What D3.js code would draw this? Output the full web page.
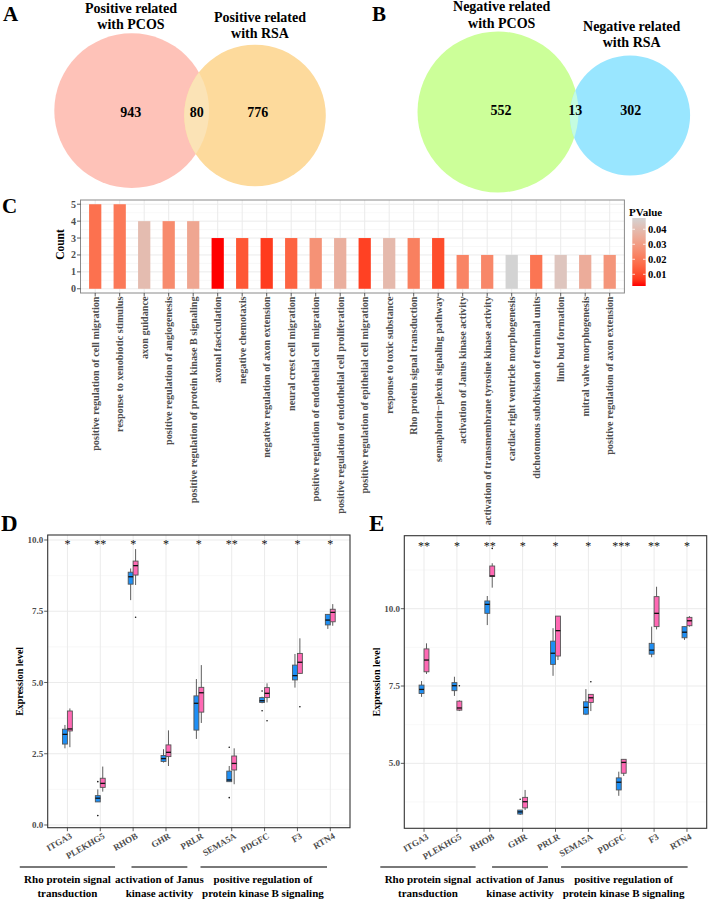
<!DOCTYPE html>
<html><head><meta charset="utf-8">
<script src="https://cdn.jsdelivr.net/npm/d3@7"></script>
<style>
body{margin:0;background:#fff;}
svg{display:block;}
text{font-family:"Liberation Serif","Times New Roman",serif;}
</style>
</head><body>
<svg id="c" width="709" height="899"></svg>
<script>
// ================= DATA =================
// Venn A
const vennATitles = [["Positive related","with PCOS"],["Positive related","with RSA"]];
const vennACounts = [943, 80, 776]; // only PCOS, both, only RSA
// Venn B
const vennBTitles = [["Negative related","with PCOS"],["Negative related","with RSA"]];
const vennBCounts = [552, 13, 302];

// Panel C: GO terms
const goTerms = [
  "positive regulation of cell migration",
  "response to xenobiotic stimulus",
  "axon guidance",
  "positive regulation of angiogenesis",
  "positive regulation of protein kinase B signaling",
  "axonal fasciculation",
  "negative chemotaxis",
  "negative regulation of axon extension",
  "neural crest cell migration",
  "positive regulation of endothelial cell migration",
  "positive regulation of endothelial cell proliferation",
  "positive regulation of epithelial cell migration",
  "response to toxic substance",
  "Rho protein signal transduction",
  "semaphorin\u2212plexin signaling pathway",
  "activation of Janus kinase activity",
  "activation of transmembrane tyrosine kinase activity",
  "cardiac right ventricle morphogenesis",
  "dichotomous subdivision of terminal units",
  "limb bud formation",
  "mitral valve morphogenesis",
  "positive regulation of axon extension"
];
const goCounts = [5,5,4,4,4,3,3,3,3,3,3,3,3,3,3,2,2,2,2,2,2,2];
const goPValues = [0.018,0.020,0.040,0.025,0.033,0.0022,0.012,0.007,0.015,0.027,0.036,0.008,0.039,0.022,0.010,0.023,0.024,0.0475,0.019,0.043,0.035,0.028];
const countTicks = [0,1,2,3,4,5];
const pvalTicks = [0.01,0.02,0.03,0.04];

// Panels D / E: boxplots  [lower whisker, Q1, median, Q3, upper whisker]
const genes = ["ITGA3","PLEKHG5","RHOB","GHR","PRLR","SEMA5A","PDGFC","F3","RTN4"];
const dBlue = [
  [2.69,2.84,3.18,3.36,3.51],[0.81,0.81,0.94,1.03,1.25],[7.89,8.45,8.71,8.87,9.00],
  [2.19,2.23,2.33,2.44,2.66],[3.02,3.33,4.27,4.53,5.12],[1.52,1.52,1.58,1.89,2.07],
  [4.27,4.30,4.36,4.47,4.50],[4.82,5.09,5.24,5.61,6.00],[6.88,7.02,7.19,7.39,7.39]];
const dPink = [
  [2.73,3.30,3.37,4.00,4.09],[1.17,1.32,1.46,1.64,2.05],[8.42,8.77,9.10,9.26,9.68],
  [2.07,2.40,2.55,2.81,3.32],[3.58,3.96,4.64,4.83,5.61],[1.43,1.93,2.16,2.42,2.69],
  [4.30,4.47,4.62,4.82,4.97],[5.30,5.32,5.71,6.02,6.55],[6.99,7.13,7.46,7.57,7.75]];
const dBlueOut = [[],[0.33,1.52],[],[],[],[2.73,0.96],[4.70,4.01],[],[]];
const dPinkOut = [[],[],[7.29],[],[],[],[3.66],[4.15],[]];
const dStars = ["*","**","*","*","*","**","*","*","*"];
const dTicks = [0,2.5,5,7.5,10];

const eBlue = [
  [7.15,7.26,7.39,7.53,7.66],[7.18,7.35,7.51,7.61,7.80],[9.47,9.85,10.14,10.25,10.41],
  [3.33,3.36,3.43,3.49,3.49],[7.83,8.20,8.56,8.95,9.37],[6.56,6.59,6.81,6.99,7.40],
  [3.95,4.14,4.39,4.53,4.73],[8.43,8.53,8.66,8.88,9.42],[8.99,9.06,9.24,9.42,9.42]];
const ePink = [
  [7.89,7.96,8.34,8.70,8.88],[6.69,6.72,6.79,7.01,7.04],[10.68,11.04,11.06,11.38,11.47],
  [3.49,3.56,3.76,3.90,4.14],[8.34,8.47,9.29,9.76,9.76],[6.69,6.97,7.12,7.23,7.23],
  [4.59,4.68,5.03,5.13,5.13],[9.33,9.42,9.85,10.39,10.71],[9.42,9.45,9.61,9.72,9.76]];
const eBlueOut = [[],[],[],[3.84],[],[],[],[],[]];
const ePinkOut = [[],[7.51],[11.95],[],[],[7.64],[],[],[]];
const eStars = ["**","*","**","*","*","*","***","**","*"];
const eTicks = [5,7.5,10];

const groupLabels = [["Rho protein signal","transduction"],["activation of Janus","kinase activity"],["positive regulation of","protein kinase B signaling"]];

// ================= DRAW =================
const svg = d3.select("#c");

// panel letters
[["A",3,21,21],["B",372,21,21],["C",2,213,21],["D",1,531,23],["E",369,531,23]].forEach(([t,x,y,s])=>{
  svg.append("text").attr("x",x).attr("y",y).attr("font-size",s).attr("font-weight","bold").text(t);
});

function venn(counts, titles, cfg){
  const g = svg.append("g");
  const rs = d3.scaleSqrt().domain([0, counts[0]+counts[1]]).range([0, cfg.r1]);
  const r1 = rs(counts[0]+counts[1]), r2 = rs(counts[1]+counts[2]);
  const id = "clip"+cfg.id;
  g.append("clipPath").attr("id",id).append("circle").attr("cx",cfg.c1[0]).attr("cy",cfg.c1[1]).attr("r",r1);
  g.append("circle").attr("cx",cfg.c1[0]).attr("cy",cfg.c1[1]).attr("r",r1).attr("fill",cfg.col1);
  g.append("circle").attr("cx",cfg.c2[0]).attr("cy",cfg.c2[1]).attr("r",r2).attr("fill",cfg.col2);
  g.append("circle").attr("cx",cfg.c2[0]).attr("cy",cfg.c2[1]).attr("r",r2).attr("fill",cfg.colLens).attr("clip-path",`url(#${id})`);
  counts.forEach((c,i)=>{
    g.append("text").attr("x",cfg.labX[i]).attr("y",cfg.labY).attr("dy","0.35em")
      .attr("text-anchor","middle").attr("font-size",14).attr("font-weight","bold").text(c);
  });
  titles.forEach((lines,i)=>{
    lines.forEach((l,j)=>{
      g.append("text").attr("x",cfg.tX[i]).attr("y",cfg.tY[i]+j*16.7).attr("text-anchor","middle")
        .attr("font-size",14).attr("font-weight","bold").text(l);
    });
  });
}
venn(vennACounts, vennATitles, {id:"A", c1:[131.7,110.7], c2:[255,115.5], r1:77.4,
  col1:"#FEC2B8", col2:"#FDDA9C", colLens:"#FBE3B6",
  labX:[130.7,196.7,257.7], labY:111.7, tX:[131,260], tY:[12.7,21.5]});
venn(vennBCounts, vennBTitles, {id:"B", c1:[498,112], c2:[630,115.5], r1:80.5,
  col1:"#CCFF99", col2:"#99E6FF", colLens:"#C4FCE0",
  labX:[501,575.3,630.7], labY:110, tX:[501.7,631.7], tY:[11,30.7]});

// ---------- Panel C ----------
(function(){
  const L=80.5, R=624.4, T=200, B=293;
  const g = svg.append("g");
  const x = d3.scalePoint().domain(goTerms).range([L,R]).padding(0.6);
  const y = d3.scaleLinear().domain([-0.25,5.25]).range([B,T]);
  const col = d3.scaleLinear().domain([0.0022,0.0475]).range(["#FF0000","#D3D3D3"]).interpolate(d3.interpolateLab);
  // grid
  const minor = countTicks.slice(0,-1).map(v=>v+0.5);
  g.selectAll(".mn").data(minor).join("line").attr("x1",L).attr("x2",R).attr("y1",d=>y(d)).attr("y2",d=>y(d)).attr("stroke","#F3F3F3").attr("stroke-width",0.6);
  g.selectAll(".mj").data(countTicks).join("line").attr("x1",L).attr("x2",R).attr("y1",d=>y(d)).attr("y2",d=>y(d)).attr("stroke","#EBEBEB").attr("stroke-width",1);
  g.selectAll(".vx").data(goTerms).join("line").attr("x1",d=>x(d)).attr("x2",d=>x(d)).attr("y1",T).attr("y2",B).attr("stroke","#EBEBEB").attr("stroke-width",1);
  const bw = x.step()*0.5;
  g.selectAll(".bar").data(goTerms).join("rect")
    .attr("x",d=>x(d)-bw/2).attr("width",bw)
    .attr("y",(d,i)=>y(goCounts[i])).attr("height",(d,i)=>y(0)-y(goCounts[i]))
    .attr("fill",(d,i)=>col(goPValues[i]));
  g.append("rect").attr("x",L).attr("y",T).attr("width",R-L).attr("height",B-T).attr("fill","none").attr("stroke","#8a8a8a").attr("stroke-width",1);
  // y axis
  countTicks.forEach(v=>{
    g.append("line").attr("x1",L-3.5).attr("x2",L).attr("y1",y(v)).attr("y2",y(v)).attr("stroke","#333").attr("stroke-width",0.8);
    g.append("text").attr("x",L-4.5).attr("y",y(v)).attr("dy","0.35em").attr("text-anchor","end")
      .attr("font-size",10).attr("font-weight","bold").attr("fill","#4D4D4D").text(v);
  });
  g.append("text").attr("transform",`translate(64,${(T+B)/2-2}) rotate(-90)`).attr("text-anchor","middle")
    .attr("font-size",11.5).attr("font-weight","bold").text("Count");
  // x axis
  goTerms.forEach(t=>{
    g.append("line").attr("x1",x(t)).attr("x2",x(t)).attr("y1",B).attr("y2",B+3.5).attr("stroke","#333").attr("stroke-width",0.8);
    g.append("text").attr("transform",`translate(${x(t)},${B+3.5}) rotate(-90)`).attr("dy","0.35em")
      .attr("text-anchor","end").attr("font-size",10.2).attr("font-weight","bold").attr("fill","#4D4D4D").text(t);
  });
  // legend
  const lg = d3.scaleLinear().domain([0.0022,0.0475]).range([286,218]);
  const grad = svg.append("defs").append("linearGradient").attr("id","pg").attr("x1",0).attr("x2",0).attr("y1",1).attr("y2",0);
  d3.range(0,1.0001,0.1).forEach(t=>{
    grad.append("stop").attr("offset",t).attr("stop-color",col(0.0022+t*(0.0475-0.0022)));
  });
  g.append("rect").attr("x",632.3).attr("y",218).attr("width",13.4).attr("height",68).attr("fill","url(#pg)");
  pvalTicks.forEach(v=>{
    g.append("line").attr("x1",632.3).attr("x2",635).attr("y1",lg(v)).attr("y2",lg(v)).attr("stroke","#fff").attr("stroke-width",0.8);
    g.append("line").attr("x1",643).attr("x2",645.7).attr("y1",lg(v)).attr("y2",lg(v)).attr("stroke","#fff").attr("stroke-width",0.8);
    g.append("text").attr("x",648).attr("y",lg(v)).attr("dy","0.35em").attr("font-size",10.5).attr("font-weight","bold").text(v.toFixed(2));
  });
  g.append("text").attr("x",629).attr("y",216).attr("font-size",11).attr("font-weight","bold").text("PValue");
})();

// ---------- Panels D/E ----------
function boxPanel(cfg, blue, pink, blueOut, pinkOut, stars, ticks){
  const {L,R,T,B} = cfg;
  const g = svg.append("g");
  const x = d3.scalePoint().domain(genes).range([L,R]).padding(0.6);
  const xl = d3.scaleLinear().domain([-0.6, genes.length-1+0.6]).range([L,R]);
  const y = d3.scaleLinear().domain(cfg.yDom).range([B,T]);
  const minor = cfg.minor;
  g.selectAll(".mn").data(minor).join("line").attr("x1",L).attr("x2",R).attr("y1",d=>y(d)).attr("y2",d=>y(d)).attr("stroke","#F3F3F3").attr("stroke-width",0.6);
  g.selectAll(".mj").data(ticks).join("line").attr("x1",L).attr("x2",R).attr("y1",d=>y(d)).attr("y2",d=>y(d)).attr("stroke","#EBEBEB").attr("stroke-width",1);
  g.selectAll(".vx").data(genes).join("line").attr("x1",d=>x(d)).attr("x2",d=>x(d)).attr("y1",T).attr("y2",B).attr("stroke","#EBEBEB").attr("stroke-width",1);
  const bw = x.step()*0.15;
  function drawBox(stats, out, off, fill){
    stats.forEach((s,i)=>{
      const cx = x(genes[i]) + off*bw/2;
      g.append("line").attr("x1",cx).attr("x2",cx).attr("y1",y(s[0])).attr("y2",y(s[4])).attr("stroke","#333").attr("stroke-width",0.8);
      g.append("rect").attr("x",cx-bw/2).attr("width",bw).attr("y",y(s[3])).attr("height",Math.max(0.5,y(s[1])-y(s[3])))
        .attr("fill",fill).attr("stroke","#555").attr("stroke-width",0.9);
      g.append("line").attr("x1",cx-bw/2).attr("x2",cx+bw/2).attr("y1",y(s[2])).attr("y2",y(s[2])).attr("stroke","#111").attr("stroke-width",1.3);
      out[i].forEach(o=>{
        g.append("circle").attr("cx",cx).attr("cy",y(o)).attr("r",0.8).attr("fill","#111");
      });
    });
  }
  drawBox(blue, blueOut, -1, "#1E8FF5");
  drawBox(pink, pinkOut, 1, "#FF69B4");
  stars.forEach((s,i)=>{
    g.append("text").attr("x",x(genes[i])).attr("y",y(cfg.starY)+5.5).attr("text-anchor","middle")
      .attr("font-size",12).attr("fill","#111").text(s);
  });
  g.append("rect").attr("x",L).attr("y",T).attr("width",R-L).attr("height",B-T).attr("fill","none").attr("stroke","#333").attr("stroke-width",1.1);
  ticks.forEach(v=>{
    g.append("line").attr("x1",L-3.5).attr("x2",L).attr("y1",y(v)).attr("y2",y(v)).attr("stroke","#333").attr("stroke-width",0.8);
    g.append("text").attr("x",L-4.4).attr("y",y(v)).attr("dy","0.35em").attr("text-anchor","end")
      .attr("font-size",9).attr("font-weight","bold").attr("fill","#4D4D4D").text(v.toFixed(1));
  });
  genes.forEach(t=>{
    g.append("line").attr("x1",x(t)).attr("x2",x(t)).attr("y1",B).attr("y2",B+3.5).attr("stroke","#333").attr("stroke-width",0.8);
    g.append("text").attr("transform",`translate(${x(t)+2},${B+4.5}) rotate(-30)`).attr("dy","0.72em")
      .attr("text-anchor","end").attr("font-size",9).attr("font-weight","bold").attr("fill","#4D4D4D").text(t);
  });
  g.append("text").attr("transform",`translate(${cfg.ylabX},${(T+B)/2}) rotate(-90)`).attr("text-anchor","middle")
    .attr("font-size",10).attr("font-weight","bold").text("Expression level");
  // group annotations
  const lines = [[-1.4,1.5],[2.0,3.7],[4.1,7.95]];
  const tc = [0.05,2.85,6.0];
  lines.forEach((ln,i)=>{
    g.append("line").attr("x1",xl(ln[0]+cfg.shift)).attr("x2",xl(ln[1]+cfg.shift)).attr("y1",867).attr("y2",867).attr("stroke","#4D4D4D").attr("stroke-width",1.3);
    groupLabels[i].forEach((t,j)=>{
      g.append("text").attr("x",xl(tc[i]+cfg.shift)).attr("y",883+j*14).attr("text-anchor","middle")
        .attr("font-size",11).attr("font-weight","bold").text(t);
    });
  });
}
boxPanel({L:47.7,R:350,T:535,B:827.7,yDom:[-0.095,10.175],minor:[1.25,3.75,6.25,8.75],starY:9.9,ylabX:23.3,shift:-0.05},
  dBlue,dPink,dBlueOut,dPinkOut,dStars,dTicks);
boxPanel({L:404.3,R:706.7,T:535.7,B:828.3,yDom:[2.9,12.36],minor:[3.75,6.25,8.75,11.25],starY:12.09,ylabX:380,shift:0.07},
  eBlue,ePink,eBlueOut,ePinkOut,eStars,eTicks);
</script>
</body></html>
